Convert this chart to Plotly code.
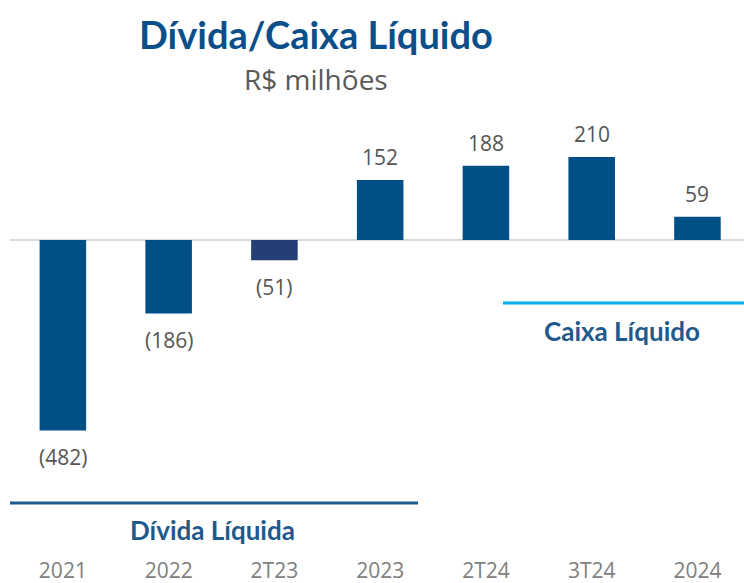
import plotly.graph_objects as go

categories = ["2021", "2022", "2T23", "2023", "2T24", "3T24", "2024"]
values = [-482, -186, -51, 152, 188, 210, 59]
bar_colors = ["#004F87", "#004F87", "#243F73", "#004F87", "#004F87", "#004F87", "#004F87"]

title_text = "Dívida/Caixa Líquido"
subtitle_text = "R$ milhões"
debt_label = "Dívida Líquida"
cash_label = "Caixa Líquido"

W, H = 744, 583
ML, MR, MT, MB = 10, 0, 120, 30
plot_h = H - MT - MB
px_per_unit = 0.395
zero_y = 240
y_top = (zero_y - MT) / px_per_unit
y_bot = -(MT + plot_h - zero_y) / px_per_unit


def fmt(v):
    return f"({abs(v)})" if v < 0 else f"{v}"


idx = list(range(len(categories)))

fig = go.Figure()
fig.add_trace(go.Bar(
    x=idx, y=values, marker_color=bar_colors,
    marker_line_width=0, hoverinfo="skip", showlegend=False,
))

for i, v in zip(idx, values):
    fig.add_annotation(
        x=i, y=v, text=fmt(v), showarrow=False,
        yshift=23 if v >= 0 else -27,
        xanchor="center", yanchor="middle",
        font=dict(family="Open Sans, sans-serif", size=21, color="#555555"),
    )


def py(pix):
    return 1 - (pix - MT) / plot_h


def px(pix):
    return (pix - ML) / (W - ML - MR)


fig.add_shape(type="line", xref="paper", yref="y", x0=0, x1=1, y0=0, y1=0,
              line=dict(color="#D9D9D9", width=2), layer="below")
fig.add_shape(type="line", xref="paper", yref="paper", x0=px(10), x1=px(418),
              y0=py(503), y1=py(503), line=dict(color="#1F5A8C", width=3))
fig.add_shape(type="line", xref="paper", yref="paper", x0=px(503), x1=px(744),
              y0=py(303), y1=py(303), line=dict(color="#00B0F0", width=3))


def label(x, y, text, size, color, family):
    fig.add_annotation(xref="paper", yref="paper", x=px(x), y=py(y),
                       text=text, showarrow=False,
                       xanchor="center", yanchor="middle",
                       font=dict(family=family, size=size, color=color))


label(212, 530, f"<b>{debt_label}</b>", 26, "#1F5A8C", "Lato, sans-serif")
label(622, 331, f"<b>{cash_label}</b>", 26, "#1F5A8C", "Lato, sans-serif")
label(316, 34, f"<b>{title_text}</b>", 38, "#0B4F8A", "Lato, sans-serif")
label(316, 79, subtitle_text, 28, "#595959", "Open Sans, sans-serif")

fig.update_layout(
    width=W, height=H,
    margin=dict(l=ML, r=MR, t=MT, b=MB, autoexpand=False),
    paper_bgcolor="white", plot_bgcolor="white",
    bargap=0.56,
    xaxis=dict(range=[-0.5, 6.44], showgrid=False, zeroline=False, showline=False,
               automargin=False,
               tickmode="array", tickvals=idx, ticktext=categories,
               ticks="", tickfont=dict(family="Open Sans, sans-serif", size=21, color="#808080"),
               ticklabelstandoff=3),
    yaxis=dict(range=[y_bot, y_top], visible=False, showgrid=False, zeroline=False,
               automargin=False),
)

fig.write_html(
    "out.html",
    config={"displayModeBar": False},
    post_script="document.body.style.margin='0';document.body.style.overflow='hidden';",
)
